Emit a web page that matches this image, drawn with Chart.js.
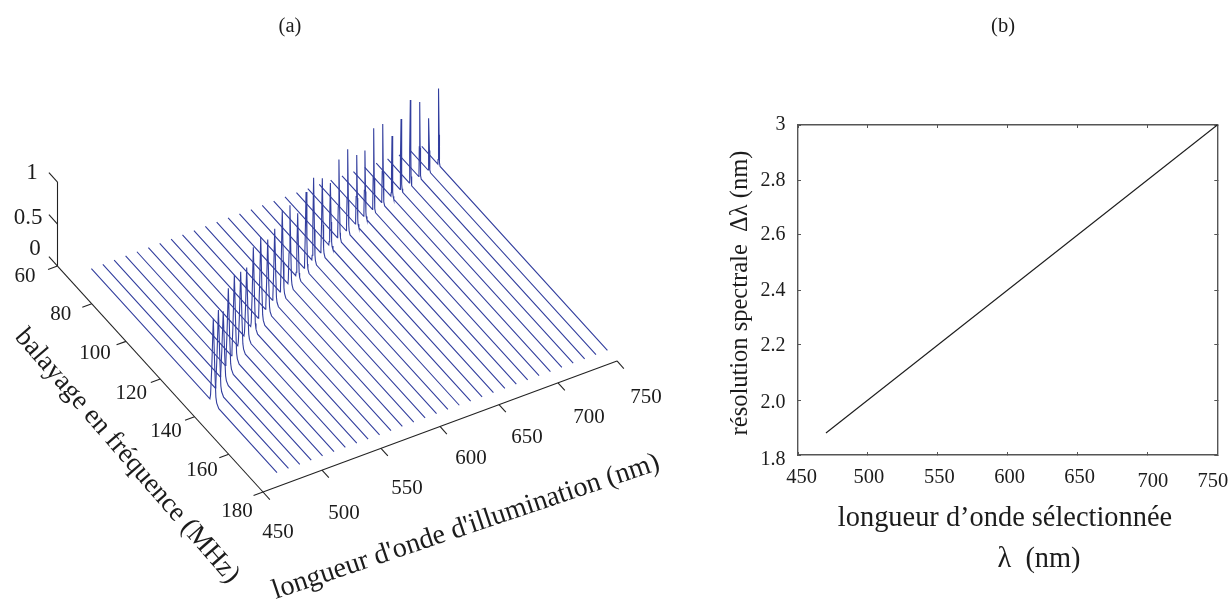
<!DOCTYPE html>
<html><head><meta charset="utf-8">
<script src="https://cdn.jsdelivr.net/npm/chart.js@4/dist/chart.umd.min.js"></script>
<style>html,body{margin:0;padding:0;background:#fff;overflow:hidden}
canvas{position:absolute;top:0}</style></head><body>
<canvas id="a" width="690" height="601" style="left:0"></canvas>
<canvas id="b" width="541" height="601" style="left:690px"></canvas>
<script>
// ---- panel (a) data
const wavelengths=[470,479.7,489.3,499,508.6,518.3,527.9,537.6,547.2,556.9,566.6,576.2,585.9,595.5,605.2,614.8,624.5,634.1,643.8,653.4,663.1,672.8,682.4,692.1,701.7,711.4,721,730.7,740.3,750];
const peakFreqs=[137.2,133.5,129.7,126,122.9,119.9,116.8,114,111.7,109.1,106.5,104.3,102.1,100,98.2,96,94.4,92.5,90.8,89.3,87.9,86,84.5,83.1,81.9,80.5,79.3,78.1,76.9,75.9];
const peakHeights=[1,.97,.82,.96,1,.92,.85,.98,1,.86,.88,1,.96,.77,.93,1,.91,.76,.95,.99,.84,.8,.98,.95,.73,.85,1,.9,.63,.91];
const peakWidths=[2,1.9,1.85,1.8,1.75,1.7,1.6,1.55,1.5,1.4,1.35,1.3,1.2,1.15,1.1,1.05,1,.95,.9,.85,.8,.75,.7,.7,.65,.6,.6,.55,.55,.5];
const sweepStart=66, sweepEnd=174.4;
const profileOffsets=[-1,-.8,-.45,0,.45,.75,1,1.6];
const profileLevels=[0,.06,.4,1,.4,.1,.04,0];
const freqTicks=[60,80,100,120,140,160,180];
const waveTicks=[450,500,550,600,650,700,750];
const ampTicks=[0,.5,1];
const ampTickLabels=['0','0.5','1'];
// ---- panel (b) data
const selectedWave=[470,750];
const resolution=[1.88,3];
const xTicksB=[450,500,550,600,650,700,750];
const yTicksB=[1.8,2,2.2,2.4,2.6,2.8,3];
const yTickLabelsB=['1.8','2.0','2.2','2.4','2.6','2.8','3'];

// oblique projection of (wavelength, frequency, amplitude) onto the chart plane
function project(w,f,z){return {
  x:263+(w-450)*1.18+(f-180)*1.7125,
  y:492-(w-450)*0.4367+(f-180)*1.883-z*84};}

const BLUE='#323e9e',INK='#1c1c1c',AXIS='#222';
const serif='"Liberation Serif","Times New Roman",serif';
function txt(ctx,s,x,y,size,rot){ctx.save();ctx.translate(x,y);if(rot)ctx.rotate(rot*Math.PI/180);
  ctx.font=size+'px '+serif;ctx.fillStyle=INK;ctx.textAlign='center';ctx.textBaseline='middle';ctx.fillText(s,0,0);ctx.restore();}

const spectra=wavelengths.map((w,i)=>{
  const pts=[project(w,sweepStart,0)];
  profileOffsets.forEach((o,k)=>pts.push(project(w,peakFreqs[i]+o*peakWidths[i],profileLevels[k]*peakHeights[i])));
  pts.push(project(w,sweepEnd,0));
  return {data:pts,borderColor:BLUE,borderWidth:1.1,pointRadius:0,tension:0,showLine:true,order:2};
});
const blk=(pts)=>({data:pts,borderColor:AXIS,borderWidth:1.1,pointRadius:0,showLine:true,order:1});
const axesA=[
  blk([project(450,60,0),project(450,180,0)]),
  blk([project(450,180,0),project(750,180,0)]),
  blk([project(450,60,0),project(450,60,1)]),
  ...freqTicks.map(f=>blk([project(450,f,0),project(442,f,0)])),
  ...waveTicks.map(w=>blk([project(w,180,0),project(w,184,0)])),
  ...ampTicks.map(z=>blk([project(450,60,z),project(450,55,z)]))
];
const freqNudge=[[-32.5,10],[-31,10.5],[-31,11.7],[-29,14],[-28.5,14.7],[-26.8,16],[-26,19]];
const waveNudge=[[15,40],[22,43],[26,40],[31,31.5],[28,33],[31,35],[29,36]];
const ampNudge=[[-22.5,-17],[-29.5,-6],[-25.5,-9]];

const textA={id:'textA',afterDraw(c){const x=c.ctx;
  txt(x,'(a)',290,27,20.5);
  freqTicks.forEach((f,i)=>{const p=project(450,f,0);txt(x,String(f),p.x+freqNudge[i][0],p.y+freqNudge[i][1],21);});
  waveTicks.forEach((w,i)=>{const p=project(w,180,0);txt(x,String(w),p.x+waveNudge[i][0],p.y+waveNudge[i][1],21);});
  ampTicks.forEach((z,i)=>{const p=project(450,60,z);txt(x,ampTickLabels[i],p.x+ampNudge[i][0],p.y+ampNudge[i][1],23);});
  txt(x,'balayage en fréquence (MHz)',127,456,27.5,49);
  txt(x,"longueur d'onde d'illumination (nm)",466,527,28.2,-18.6);
}};
new Chart(document.getElementById('a'),{type:'scatter',
  data:{datasets:[...spectra,...axesA]},
  options:{responsive:false,animation:false,devicePixelRatio:1,
    layout:{padding:0},
    plugins:{legend:{display:false},tooltip:{enabled:false},title:{display:false}},
    scales:{x:{type:'linear',min:0,max:690,display:false},y:{type:'linear',min:0,max:601,reverse:true,display:false}}},
  plugins:[textA]});

const xNudge={450:[3.7,23],500:[1,23],550:[1.6,23],600:[2,23],650:[2,23],700:[5.4,27],750:[-4.5,27]};
const yNudge={1.8:[0,5],2:[0,3],2.2:[0,1],2.4:[0,1],2.6:[0,0],2.8:[0,1],3:[0,0]};
const textB={id:'textB',afterDraw(c){const x=c.ctx,sx=c.scales.x,sy=c.scales.y;
  txt(x,'(b)',313,27,20.5);
  xTicksB.forEach(v=>txt(x,String(v),sx.getPixelForValue(v)+xNudge[v][0],sy.bottom+xNudge[v][1],20.5));
  yTicksB.forEach((v,i)=>{const s=yTickLabelsB[i];x.save();x.font='20px '+serif;x.fillStyle=INK;x.textAlign='right';x.textBaseline='middle';
    x.fillText(s,sx.left-12.5,sy.getPixelForValue(v)+yNudge[v][1]);x.restore();});
  txt(x,'résolution spectrale  Δλ (nm)',51,293,24.5,-90);
  txt(x,'longueur d’onde sélectionnée',315,519,28.4);
  txt(x,'λ  (nm)',349,560,28.4);
}};
const fitH=s=>{s.height=0;},fitW=s=>{s.width=0;};
const gridB={drawOnChartArea:false,tickLength:-3,tickWidth:1,tickColor:'#555'};
const borderB={display:true,color:'#555',width:1.4};
new Chart(document.getElementById('b'),{type:'line',
  data:{datasets:[{data:selectedWave.map((w,i)=>({x:w,y:resolution[i]})),borderColor:'#1c1c1c',borderWidth:1.1,pointRadius:0,tension:0,clip:false}]},
  options:{responsive:false,animation:false,devicePixelRatio:1,
    layout:{padding:{left:108,right:13.7,top:125,bottom:146}},
    plugins:{legend:{display:false},tooltip:{enabled:false},title:{display:false}},
    scales:{
      x:{type:'linear',position:'bottom',min:450,max:750,afterFit:fitH,afterBuildTicks(s){s.ticks=xTicksB.map(v=>({value:v}));},ticks:{display:false},grid:gridB,border:borderB},
      x2:{axis:'x',type:'linear',position:'top',min:450,max:750,afterFit:fitH,afterBuildTicks(s){s.ticks=xTicksB.map(v=>({value:v}));},ticks:{display:false},grid:gridB,border:borderB},
      y:{type:'linear',position:'left',min:1.8,max:3,afterFit:fitW,afterBuildTicks(s){s.ticks=yTicksB.map(v=>({value:v}));},ticks:{display:false},grid:gridB,border:borderB},
      y2:{axis:'y',type:'linear',position:'right',min:1.8,max:3,afterFit:fitW,afterBuildTicks(s){s.ticks=yTicksB.map(v=>({value:v}));},ticks:{display:false},grid:gridB,border:borderB}
    }},
  plugins:[textB]});
</script></body></html>
